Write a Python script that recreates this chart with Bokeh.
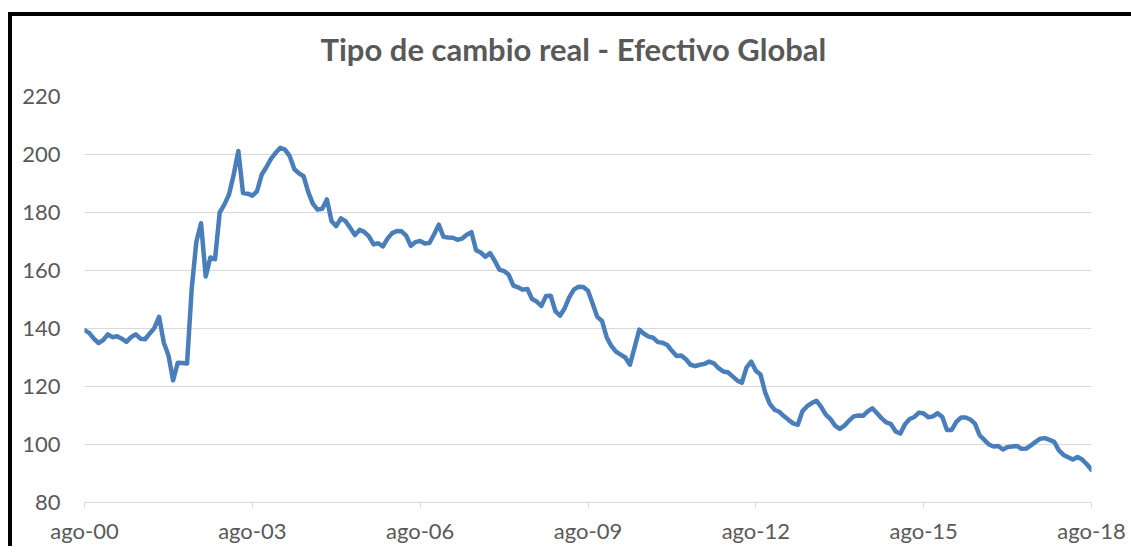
from bokeh.plotting import figure
from bokeh.models import FixedTicker, Range1d, ColumnDataSource
from bokeh.embed import file_html
from bokeh.resources import INLINE

# Monthly real effective exchange rate, Aug-2000 .. Aug-2018
tcr_values = [
    139.4, 138.5, 136.5, 135.0, 136.0, 138.0, 137.0, 137.3, 136.5, 135.4,
    137.0, 138.0, 136.5, 136.3, 138.3, 140.2, 144.0, 135.2, 130.8, 122.1,
    128.2, 128.1, 127.9, 153.8, 170.0, 176.3, 157.9, 164.5, 163.9, 180.0,
    182.7, 186.2, 193.0, 201.2, 186.7, 186.5, 185.8, 187.3, 193.0, 195.6,
    198.5, 200.6, 202.3, 201.7, 199.5, 195.0, 193.5, 192.5, 187.0, 183.0,
    181.0, 181.3, 184.5, 177.0, 175.3, 178.0, 177.0, 174.7, 172.2, 174.0,
    173.3, 171.8, 169.0, 169.4, 168.3, 171.0, 172.9, 173.6, 173.5, 172.0,
    168.5, 169.8, 170.2, 169.3, 169.5, 172.5, 175.8, 171.6, 171.4, 171.3,
    170.6, 171.0, 172.3, 173.2, 167.0, 166.2, 164.7, 166.0, 163.3, 160.3,
    159.8, 158.5, 154.8, 154.2, 153.4, 153.6, 150.2, 149.3, 147.8, 151.2,
    151.3, 146.0, 144.4, 147.0, 150.8, 153.5, 154.4, 154.3, 153.0, 148.5,
    144.0, 142.6, 137.0, 134.0, 132.0, 131.0, 130.0, 127.5, 133.5, 139.6,
    138.2, 137.2, 136.8, 135.3, 135.1, 134.3, 132.3, 130.5, 130.7, 129.4,
    127.5, 127.0, 127.5, 127.8, 128.6, 128.0, 126.3, 125.2, 124.9, 123.5,
    122.1, 121.3, 126.5, 128.6, 125.4, 124.1, 118.0, 114.0, 112.0, 111.3,
    109.8, 108.5, 107.3, 106.8, 111.5, 113.2, 114.3, 115.1, 113.0, 110.3,
    108.8, 106.5, 105.4, 106.5, 108.2, 109.7, 110.0, 109.9, 111.4, 112.5,
    110.8, 109.0, 107.6, 107.0, 104.5, 103.8, 107.0, 108.8, 109.5, 111.0,
    110.7, 109.4, 109.7, 110.8, 109.5, 105.0, 105.0, 107.8, 109.3, 109.3,
    108.6, 107.2, 103.2, 101.6, 100.0, 99.3, 99.5, 98.3, 99.1, 99.3,
    99.5, 98.5, 98.6, 99.7, 100.9, 102.0, 102.2, 101.6, 100.9, 98.0,
    96.4, 95.6, 94.8, 95.7, 94.8, 93.2, 91.3,
]
month_index = list(range(len(tcr_values)))  # 0 = ago-00

x_tick_months = [0, 36, 72, 108, 144, 180, 216]
x_tick_labels = ["ago-00", "ago-03", "ago-06", "ago-09", "ago-12", "ago-15", "ago-18"]
y_ticks = [80, 100, 120, 140, 160, 180, 200, 220]
title_text = "Tipo de cambio real - Efectivo Global"

src = ColumnDataSource(data=dict(x=month_index, y=tcr_values))

p = figure(width=1123, height=548, output_backend="svg", toolbar_location=None,
           x_range=Range1d(0, 216), y_range=Range1d(80, 220),
           min_border_left=76, min_border_right=40, min_border_top=98,
           min_border_bottom=43, title=title_text)
# white chart area with the black frame edges (left and top) drawn behind
# the transparent outer canvas
p.styles = {
    "margin-left": "8px", "margin-top": "-2px",
    "background-color": "white",
    "background-image": "linear-gradient(#000, #000), linear-gradient(#000, #000)",
    "background-repeat": "no-repeat",
    "background-size": "4px 100%, 100% 4px",
    "background-position": "0px 14px, 0px 14px",
}
p.background_fill_color = "white"
p.border_fill_alpha = 0
p.outline_line_color = None

p.title.align = "left"
p.title.offset = 236
p.title.text_font = "Lato"
p.title.text_font_style = "bold"
p.title.text_font_size = "31px"
p.title.text_color = "#595959"
p.title.standoff = 58

p.line("x", "y", source=src, line_color="#4A7EBB", line_width=4.5,
       line_join="round", line_cap="round")

# axes
p.xaxis.ticker = FixedTicker(ticks=x_tick_months)
p.xaxis.major_label_overrides = {m: l for m, l in zip(x_tick_months, x_tick_labels)}
p.xaxis.axis_line_color = "#D9D9D9"
p.xaxis.major_tick_line_color = "#D9D9D9"
p.xaxis.major_tick_in = 0
p.xaxis.major_tick_out = 6
p.xaxis.minor_tick_line_color = None
p.xaxis.major_label_text_font = "Lato"
p.xaxis.major_label_text_font_size = "22px"
p.xaxis.major_label_text_color = "#595959"
p.xaxis.major_label_standoff = 8

p.yaxis.ticker = FixedTicker(ticks=y_ticks)
p.yaxis.axis_line_color = None
p.yaxis.major_tick_line_color = None
p.yaxis.major_tick_in = 0
p.yaxis.major_tick_out = 0
p.yaxis.minor_tick_line_color = None
p.yaxis.major_label_text_font = "Lato"
p.yaxis.major_label_text_font_size = "22px"
p.yaxis.major_label_text_color = "#595959"
p.yaxis.major_label_standoff = 24

p.xgrid.grid_line_color = None
p.ygrid.grid_line_color = "#D9D9D9"
p.ygrid.grid_line_width = 1

open("out.html", "w").write(file_html(p, INLINE))
